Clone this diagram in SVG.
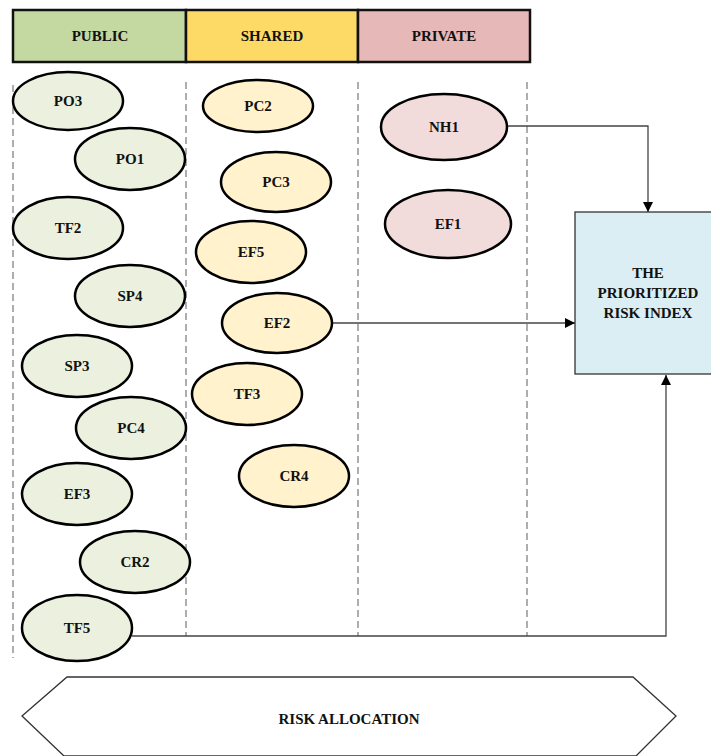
<svg xmlns="http://www.w3.org/2000/svg" width="711" height="756" viewBox="0 0 711 756">
<style>
text{font-family:"Liberation Serif","Times New Roman",serif;font-weight:bold;font-size:15px;fill:#111;text-anchor:middle;dominant-baseline:central}
.pub{fill:#EBF1DE;stroke:#000;stroke-width:2.5}
.sha{fill:#FFF2CC;stroke:#000;stroke-width:2.5}
.pri{fill:#F2DCDB;stroke:#000;stroke-width:2.5}
.dash{stroke:#777;stroke-width:1.2;stroke-dasharray:7 4;fill:none}
.conn{stroke:#444;stroke-width:1.3;fill:none}
</style>
<defs>
<marker id="arr" viewBox="0 0 10 10" refX="10" refY="5" markerWidth="10" markerHeight="10" markerUnits="userSpaceOnUse" orient="auto">
<path d="M0,0 L10,5 L0,10 z" fill="#000"/>
</marker>
</defs>
<g id="header">
<rect x="13" y="10" width="173" height="52" fill="#C4D8A2" stroke="#111" stroke-width="2.5"/>
<rect x="186" y="10" width="172" height="52" fill="#FDD965" stroke="#111" stroke-width="2.5"/>
<rect x="358" y="10" width="172" height="52" fill="#E6B8B7" stroke="#111" stroke-width="2.5"/>
<text x="100" y="36">PUBLIC</text>
<text x="272" y="36">SHARED</text>
<text x="444" y="36">PRIVATE</text>
</g>
<g id="lanes">
<line class="dash" x1="13" y1="85" x2="13" y2="658"/>
<line class="dash" x1="186" y1="82" x2="186" y2="636"/>
<line class="dash" x1="358" y1="82" x2="358" y2="636"/>
<line class="dash" x1="527" y1="82" x2="527" y2="636"/>
</g>
<g id="connectors">
<path class="conn" d="M507,126 H648 V212" marker-end="url(#arr)"/>
<path class="conn" d="M332,323 H575" marker-end="url(#arr)"/>
<path class="conn" d="M132,636 H666 V375" marker-end="url(#arr)"/>
</g>
<g id="PO3"><ellipse class="pub" cx="68" cy="101" rx="55" ry="29"/><text x="68" y="101">PO3</text></g>
<g id="PO1"><ellipse class="pub" cx="130" cy="159" rx="55" ry="31"/><text x="130" y="159">PO1</text></g>
<g id="TF2"><ellipse class="pub" cx="68" cy="228" rx="55" ry="31"/><text x="68" y="228">TF2</text></g>
<g id="SP4"><ellipse class="pub" cx="130" cy="296" rx="55" ry="31"/><text x="130" y="296">SP4</text></g>
<g id="SP3"><ellipse class="pub" cx="77" cy="366" rx="55" ry="31"/><text x="77" y="366">SP3</text></g>
<g id="PC4"><ellipse class="pub" cx="131" cy="428" rx="55" ry="31"/><text x="131" y="428">PC4</text></g>
<g id="EF3"><ellipse class="pub" cx="77" cy="494" rx="55" ry="31"/><text x="77" y="494">EF3</text></g>
<g id="CR2"><ellipse class="pub" cx="135" cy="562" rx="55" ry="31"/><text x="135" y="562">CR2</text></g>
<g id="TF5"><ellipse class="pub" cx="77" cy="628" rx="55" ry="33"/><text x="77" y="628">TF5</text></g>
<g id="PC2"><ellipse class="sha" cx="258" cy="106" rx="55" ry="26"/><text x="258" y="106">PC2</text></g>
<g id="PC3"><ellipse class="sha" cx="276" cy="182" rx="55" ry="30"/><text x="276" y="182">PC3</text></g>
<g id="EF5"><ellipse class="sha" cx="251" cy="252" rx="55" ry="31"/><text x="251" y="252">EF5</text></g>
<g id="EF2"><ellipse class="sha" cx="277" cy="323" rx="55" ry="30"/><text x="277" y="323">EF2</text></g>
<g id="TF3"><ellipse class="sha" cx="247" cy="394" rx="55" ry="31"/><text x="247" y="394">TF3</text></g>
<g id="CR4"><ellipse class="sha" cx="294" cy="476" rx="55" ry="31"/><text x="294" y="476">CR4</text></g>
<g id="NH1"><ellipse class="pri" cx="444" cy="127" rx="63" ry="33"/><text x="444" y="127">NH1</text></g>
<g id="EF1"><ellipse class="pri" cx="448" cy="224" rx="63" ry="34"/><text x="448" y="224">EF1</text></g>
<g id="index">
<rect x="575" y="212" width="140" height="162" fill="#DAEEF3" stroke="#333" stroke-width="1.3"/>
<text x="648" y="273">THE</text>
<text x="648" y="293">PRIORITIZED</text>
<text x="648" y="313">RISK INDEX</text>
</g>
<g id="allocation">
<polygon points="22,716 67,677 633,677 676,716 636,756 64,756" fill="#fff" stroke="#333" stroke-width="1.3"/>
<text x="349" y="719">RISK ALLOCATION</text>
</g>
</svg>
